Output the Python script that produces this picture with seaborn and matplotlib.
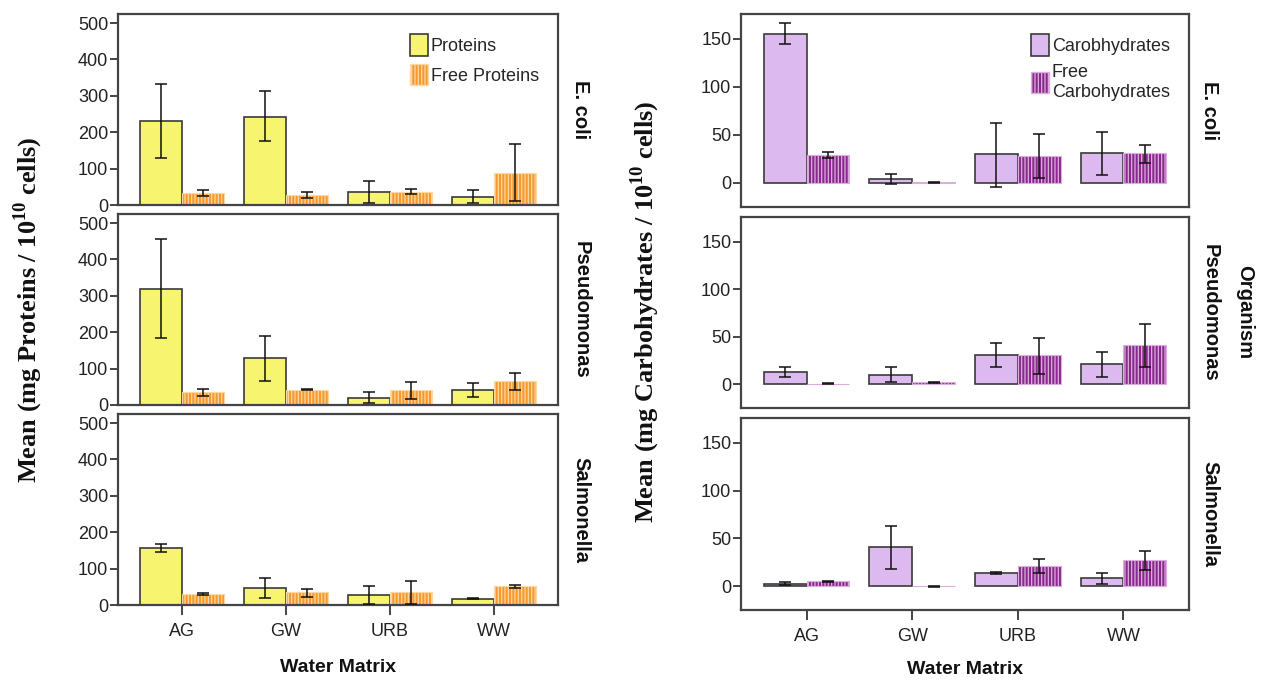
import matplotlib
matplotlib.use("Agg")
import matplotlib.pyplot as plt
import pandas as pd
import seaborn as sns
from matplotlib.patches import Patch

# ---- data -------------------------------------------------------------
matrices = ["AG", "GW", "URB", "WW"]
organisms = ["E. coli", "Pseudomonas", "Salmonella"]

# Proteins (mg / 10^10 cells): means and error-bar limits per water matrix
ecoli_prot = [230, 243, 35, 22]
ecoli_prot_lo = [130, 175, 5, 5]
ecoli_prot_hi = [333, 313, 67, 40]
ecoli_fprot = [33, 28, 37, 88]
ecoli_fprot_lo = [25, 20, 30, 10]
ecoli_fprot_hi = [42, 36, 43, 167]

pseudo_prot = [320, 128, 20, 42]
pseudo_prot_lo = [185, 65, 5, 22]
pseudo_prot_hi = [455, 190, 35, 60]
pseudo_fprot = [35, 42, 42, 65]
pseudo_fprot_lo = [25, 40, 17, 40]
pseudo_fprot_hi = [45, 43, 63, 87]

salmo_prot = [157, 47, 27, 17]
salmo_prot_lo = [145, 20, 2, 16]
salmo_prot_hi = [167, 73, 53, 18]
salmo_fprot = [30, 35, 35, 51]
salmo_fprot_lo = [27, 22, 2, 47]
salmo_fprot_hi = [33, 45, 65, 55]

# Carbohydrates (mg / 10^10 cells)
ecoli_carb = [155, 4, 30, 31]
ecoli_carb_lo = [145, -1, -4, 8]
ecoli_carb_hi = [167, 9, 63, 53]
ecoli_fcarb = [29, 1, 28, 31]
ecoli_fcarb_lo = [26, 0.5, 5, 21]
ecoli_fcarb_hi = [32, 1.5, 51, 40]

pseudo_carb = [13, 10, 31, 21]
pseudo_carb_lo = [8, 2, 18, 8]
pseudo_carb_hi = [18, 18, 43, 34]
pseudo_fcarb = [0.5, 2, 31, 41]
pseudo_fcarb_lo = [0, 1, 11, 18]
pseudo_fcarb_hi = [1, 2.5, 49, 63]

salmo_carb = [2, 41, 14, 8]
salmo_carb_lo = [1, 18, 13, 2]
salmo_carb_hi = [4, 63, 15, 14]
salmo_fcarb = [5, 0, 21, 27]
salmo_fcarb_lo = [4.5, -0.5, 14, 17]
salmo_fcarb_hi = [5.5, 0.5, 28, 37]

prot_labels = ["Proteins", "Free Proteins"]
carb_labels = ["Carobhydrates", "Free\nCarbohydrates"]
prot_ticks = [0, 100, 200, 300, 400, 500]
carb_ticks = [0, 50, 100, 150]

prot_sets = [
    (ecoli_prot, ecoli_prot_lo, ecoli_prot_hi, ecoli_fprot, ecoli_fprot_lo, ecoli_fprot_hi),
    (pseudo_prot, pseudo_prot_lo, pseudo_prot_hi, pseudo_fprot, pseudo_fprot_lo, pseudo_fprot_hi),
    (salmo_prot, salmo_prot_lo, salmo_prot_hi, salmo_fprot, salmo_fprot_lo, salmo_fprot_hi),
]
carb_sets = [
    (ecoli_carb, ecoli_carb_lo, ecoli_carb_hi, ecoli_fcarb, ecoli_fcarb_lo, ecoli_fcarb_hi),
    (pseudo_carb, pseudo_carb_lo, pseudo_carb_hi, pseudo_fcarb, pseudo_fcarb_lo, pseudo_fcarb_hi),
    (salmo_carb, salmo_carb_lo, salmo_carb_hi, salmo_fcarb, salmo_fcarb_lo, salmo_fcarb_hi),
]

# ---- style ------------------------------------------------------------
sns.set_style("ticks")
plt.rcParams["font.family"] = ["Liberation Sans", "DejaVu Sans"]
plt.rcParams["mathtext.fontset"] = "custom"
plt.rcParams["mathtext.rm"] = "Liberation Serif:bold"
plt.rcParams["mathtext.bf"] = "Liberation Serif:bold"
plt.rcParams["hatch.linewidth"] = 0.9

SPINE = "#444444"
YELLOW, YELLOW_EDGE = "#f7f46f", "#3a3a3a"
ORANGE, ORANGE_HATCH = "#f7992c", "#fcd8a4"
LAVENDER, LAVENDER_EDGE = "#dcb9ef", "#3a3a3a"
PURPLE_FACE, PURPLE_HATCH = "#8a2a8d", "#dcaee0"

fig = plt.figure(figsize=(12.62, 6.84), dpi=100)
W, H = 1262.0, 684.0


def axes_px(x0, x1, y0, y1):
    return fig.add_axes([x0 / W, 1 - y1 / H, (x1 - x0) / W, (y1 - y0) / H])


left_rows = [(14, 205), (214, 405), (414, 605)]
right_rows = [(14, 207), (217, 408), (418, 610)]


def draw_panel(ax, vals, labels, colors, hatch_color, edge_color, ylim, yticks, bottom):
    m1, l1, h1, m2, l2, h2 = vals
    df = pd.DataFrame({
        "Matrix": matrices * 2,
        "Mean": list(m1) + list(m2),
        "Type": [labels[0]] * 4 + [labels[1]] * 4,
    })
    sns.barplot(data=df, x="Matrix", y="Mean", hue="Type", order=matrices,
                hue_order=labels, palette=colors, saturation=1, width=0.81,
                errorbar=None, legend=False, ax=ax, zorder=2)
    for bar in ax.containers[0]:
        bar.set_edgecolor(edge_color)
        bar.set_linewidth(1.2)
    for bar in ax.containers[1]:
        bar.set_hatch("|||||")
        bar.set_edgecolor(hatch_color)
        bar.set_linewidth(0.8)
    for cont, means, lows, highs in zip(ax.containers, (m1, m2), (l1, l2), (h1, h2)):
        for bar, m, lo, hi in zip(cont, means, lows, highs):
            xc = bar.get_x() + bar.get_width() / 2
            ax.errorbar(xc, m, yerr=[[m - lo], [hi - m]], fmt="none",
                        ecolor="#111111", elinewidth=1.1, capsize=4.5,
                        capthick=1.1, zorder=4)
    ax.set_xlim(-0.62, 3.62)
    ax.set_ylim(*ylim)
    ax.set_yticks(yticks)
    ax.set_ylabel("")
    ax.set_xlabel("")
    for sp in ax.spines.values():
        sp.set_visible(True)
        sp.set_color(SPINE)
        sp.set_linewidth(1.6)
    ax.tick_params(axis="y", direction="out", length=6, width=1.4, color=SPINE,
                   labelsize=13, labelcolor="#222222", pad=1)
    if bottom:
        ax.tick_params(axis="x", direction="out", length=7, width=1.4, color=SPINE,
                       labelsize=13, labelcolor="#222222", pad=6)
    else:
        ax.tick_params(axis="x", length=0, labelbottom=False)


legend_kw = dict(loc="upper right", frameon=False, fontsize=13, handlelength=1.05,
                 handleheight=1.45, handletextpad=0.12, labelspacing=0.45,
                 borderpad=0.2)

# ---- protein column ---------------------------------------------------
for i, (y0, y1) in enumerate(left_rows):
    ax = axes_px(118, 558, y0, y1)
    draw_panel(ax, prot_sets[i], prot_labels, [YELLOW, ORANGE], ORANGE_HATCH,
               YELLOW_EDGE, (0, 525), prot_ticks, bottom=(i == 2))
    ax.text(1.03, 0.5, organisms[i], transform=ax.transAxes, rotation=-90,
            ha="left", va="center", fontsize=14.5, fontweight="bold", color="#111111")
    if i == 0:
        handles = [Patch(facecolor=YELLOW, edgecolor=YELLOW_EDGE, linewidth=1.2),
                   Patch(facecolor=ORANGE, edgecolor=ORANGE_HATCH, hatch="|||||")]
        ax.legend(handles, prot_labels, bbox_to_anchor=(0.985, 0.96), **legend_kw)

# ---- carbohydrate column ----------------------------------------------
for i, (y0, y1) in enumerate(right_rows):
    ax = axes_px(741, 1189, y0, y1)
    draw_panel(ax, carb_sets[i], carb_labels, [LAVENDER, PURPLE_FACE], PURPLE_HATCH,
               LAVENDER_EDGE, (-25, 176), carb_ticks, bottom=(i == 2))
    ax.text(1.025, 0.5, organisms[i], transform=ax.transAxes, rotation=-90,
            ha="left", va="center", fontsize=14.5, fontweight="bold", color="#111111")
    if i == 0:
        handles = [Patch(facecolor=LAVENDER, edgecolor=LAVENDER_EDGE, linewidth=1.2),
                   Patch(facecolor=PURPLE_FACE, edgecolor=PURPLE_HATCH, hatch="|||||")]
        ax.legend(handles, carb_labels, bbox_to_anchor=(0.985, 0.96), **legend_kw)

# ---- shared labels ----------------------------------------------------
serif = ["Liberation Serif", "DejaVu Serif"]
fig.text(28 / W, 1 - 310 / H, r"Mean (mg Proteins / 10$^{\mathbf{10}}$ cells)",
         rotation=90, ha="center", va="center", fontsize=19, fontweight="bold",
         family=serif, color="#111111")
fig.text(645 / W, 1 - 312 / H, r"Mean (mg Carbohydrates / 10$^{\mathbf{10}}$ cells)",
         rotation=90, ha="center", va="center", fontsize=19, fontweight="bold",
         family=serif, color="#111111")
fig.text(338 / W, 1 - 668 / H, "Water Matrix", ha="center", va="center",
         fontsize=14, fontweight="bold", color="#111111")
fig.text(965 / W, 1 - 670 / H, "Water Matrix", ha="center", va="center",
         fontsize=14, fontweight="bold", color="#111111")
fig.text(1245 / W, 1 - 312 / H, "Organism", rotation=-90, ha="center", va="center",
         fontsize=14.5, fontweight="bold", color="#111111")

fig.savefig("out.png", dpi=100, facecolor="white")
